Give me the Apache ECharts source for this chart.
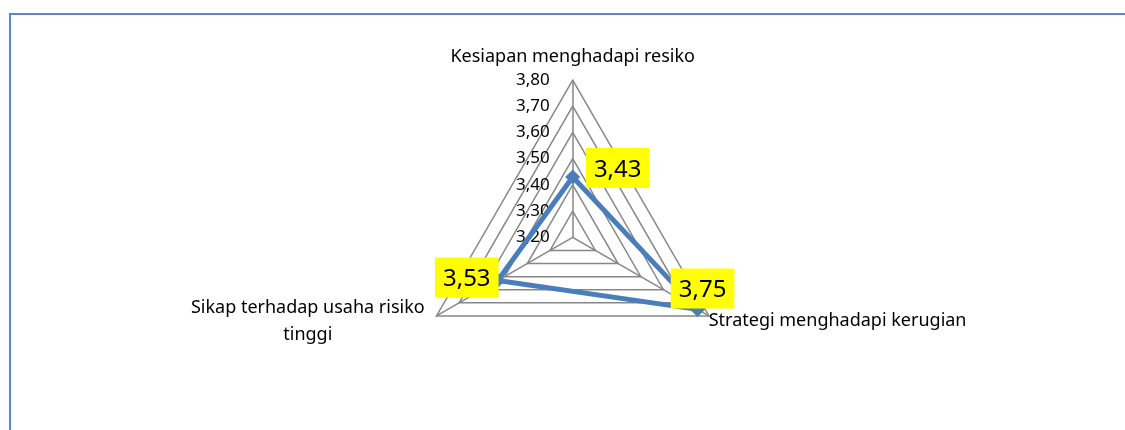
<!DOCTYPE html>
<html lang="en">

<head>
    <meta charset="UTF-8">
    <title>Radar</title>
    <style>
        body {
            margin: 0;
            background: #fff;
        }

        #frame {
            position: absolute;
            left: 9px;
            top: 13px;
            width: 1130px;
            height: 430px;
            border-left: 2px solid #5a86c4;
            border-top: 2px solid #5a86c4;
        }

        #main {
            position: absolute;
            left: 0;
            top: 0;
            width: 1125px;
            height: 430px;
        }
    </style>
    <script src="https://cdnjs.cloudflare.com/ajax/libs/echarts/6.0.0/echarts.min.js"></script>
</head>

<body>
    <div id="frame"></div>
    <div id="main"></div>
    <script>
        // indicators (echarts goes counter-clockwise from the top) and their scores
        const indicators = ['Kesiapan menghadapi resiko', 'Sikap terhadap usaha risiko\ntinggi', 'Strategi menghadapi kerugian'];
        const scores = [3.43, 3.53, 3.75];
        const axisMin = 3.2;
        const axisMax = 3.8;
        // offset of each yellow value box from its point
        const labelOffsets = [[45, -9], [-31, -3], [5, -21]];

        const fmt = v => v.toFixed(2).replace('.', ',');

        const chart = echarts.init(document.getElementById('main'));

        const labelSeries = scores.map((s, i) => ({
            type: 'radar',
            silent: true,
            symbol: 'circle',
            symbolSize: 0.1,
            itemStyle: { color: 'rgba(0,0,0,0)' },
            lineStyle: { width: 0, opacity: 0 },
            data: [{ value: scores }],
            label: {
                show: true,
                position: 'inside',
                offset: labelOffsets[i],
                formatter: p => (Math.abs(p.value - s) < 1e-9 ? '{b|' + fmt(p.value) + '}' : ''),
                rich: {
                    b: {
                        backgroundColor: '#ffff00',
                        color: '#000',
                        fontFamily: 'Noto Sans',
                        fontSize: 24,
                        padding: [10, 8, 6, 8],
                        lineHeight: 34
                    }
                }
            }
        }));

        const option = {
            animation: false,
            radar: {
                center: [572.7, 237.3],
                radius: 157.3,
                shape: 'polygon',
                splitNumber: 6,
                startAngle: 90,
                axisName: {
                    color: '#000',
                    fontFamily: 'Noto Sans',
                    fontSize: 18,
                    formatter: t => t.split('\n').map(l => '{s|' + l + '}').join('\n'),
                    rich: {
                        s: { width: 240, align: 'center', fontFamily: 'Noto Sans', fontSize: 18, color: '#000', lineHeight: 27 }
                    }
                },
                nameGap: 10,
                indicator: indicators.map((n, i) => ({
                    name: n,
                    min: axisMin,
                    max: axisMax,
                    axisLabel: { show: i === 0 }
                })),
                axisLine: { lineStyle: { color: '#878787', width: 1.5 } },
                splitLine: { lineStyle: { color: '#878787', width: 1.5 } },
                splitArea: { show: false },
                axisLabel: {
                    show: true,
                    color: '#000',
                    fontFamily: 'Noto Sans',
                    fontSize: 17,
                    margin: 23,
                    formatter: v => fmt(v)
                }
            },
            series: [{
                type: 'radar',
                silent: true,
                symbol: 'diamond',
                symbolSize: 15,
                itemStyle: { color: '#4a7ebb' },
                lineStyle: { color: '#4a7ebb', width: 5 },
                data: [{ value: scores }]
            }].concat(labelSeries)
        };

        chart.setOption(option);
    </script>
</body>

</html>
